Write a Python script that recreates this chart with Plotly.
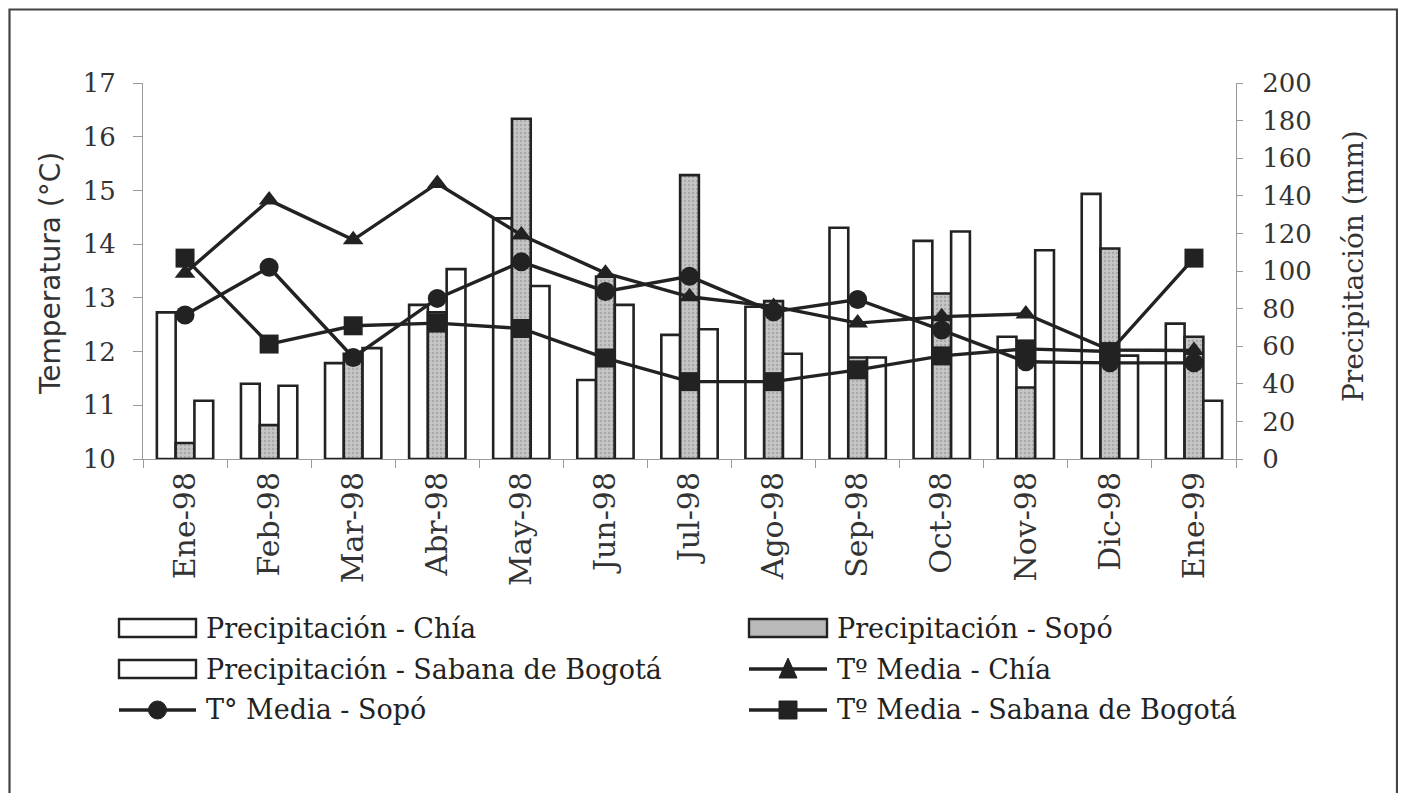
import plotly.graph_objects as go

# ---------------- data ----------------
months = ["Ene-98", "Feb-98", "Mar-98", "Abr-98", "May-98", "Jun-98", "Jul-98",
          "Ago-98", "Sep-98", "Oct-98", "Nov-98", "Dic-98", "Ene-99"]

precip_chia = [78, 40, 51, 82, 128, 42, 66, 81, 123, 116, 65, 141, 72]
precip_sopo = [8.5, 18, 56, 78, 181, 97, 151, 84, 54, 88, 38, 112, 65]
precip_sabana = [31, 39, 59, 101, 92, 82, 69, 56, 54, 121, 111, 55, 31]

temp_chia = [13.46, 14.82, 14.08, 15.13, 14.17, 13.46, 13.02, 12.84, 12.53, 12.65, 12.70, 12.03, 12.02]
temp_sopo = [12.68, 13.57, 11.89, 12.99, 13.67, 13.12, 13.40, 12.74, 12.97, 12.40, 11.81, 11.79, 11.79]
temp_sabana = [13.74, 12.14, 12.48, 12.53, 12.43, 11.88, 11.44, 11.44, 11.66, 11.92, 12.05, 12.00, 13.74]

temp_ticks = [10, 11, 12, 13, 14, 15, 16, 17]
precip_ticks = [0, 20, 40, 60, 80, 100, 120, 140, 160, 180, 200]

# ---------------- geometry / style ----------------
OFF = 8                      # page body margin offset
W, H = 1406 - OFF, 793 - OFF
L, R, T, B = 143, 1236, 83, 459   # plot area in page pixels
INK = "#222222"
AX = "#9a9a9a"
SERIF = "DejaVu Serif"
SANS = "DejaVu Sans"


def px(x):
    return (x - L) / (R - L)


def py(y):
    return (B - y) / (B - T)


fig = go.Figure()

bar_line = dict(color=INK, width=2.6)
fig.add_trace(go.Bar(x=months, y=precip_chia, name="Precipitación - Chía",
                     marker=dict(color="white", line=bar_line), showlegend=False))
fig.add_trace(go.Bar(x=months, y=precip_sopo, name="Precipitación - Sopó",
                     marker=dict(color="#bdbdbd", line=bar_line,
                                 pattern=dict(shape=".", fgcolor="#8c8c8c", bgcolor="#c6c6c6",
                                              size=4, solidity=0.3)),
                     showlegend=False))
fig.add_trace(go.Bar(x=months, y=precip_sabana, name="Precipitación - Sabana de Bogotá",
                     marker=dict(color="white", line=bar_line), showlegend=False))

line_style = dict(color=INK, width=3.4)
for vals, sym, nm in [(temp_chia, "triangle-up", "Tº Media - Chía"),
                      (temp_sopo, "circle", "T° Media - Sopó"),
                      (temp_sabana, "square", "Tº Media - Sabana de Bogotá")]:
    fig.add_trace(go.Scatter(x=months, y=vals, yaxis="y2", mode="lines+markers", name=nm,
                             line=line_style,
                             marker=dict(symbol=sym, size=19 if sym != "triangle-up" else 18,
                                         color=INK, line=dict(width=0)),
                             cliponaxis=False, showlegend=False))

# ---------------- manual legend ----------------
shapes = []
annotations = []
rows = [628, 669, 710]
cols = [(119, 196, 204), (749, 827, 835)]
items = [
    (0, 0, "rect_white", "Precipitación - Chía"),
    (1, 0, "rect_gray", "Precipitación - Sopó"),
    (0, 1, "rect_white", "Precipitación - Sabana de Bogotá"),
    (1, 1, "triangle", "Tº Media - Chía"),
    (0, 2, "circle", "T° Media - Sopó"),
    (1, 2, "square", "Tº Media - Sabana de Bogotá"),
]
for c, r, kind, label in items:
    x0, x1, xt = cols[c]
    yc = rows[r]
    if kind.startswith("rect"):
        shapes.append(dict(type="rect", xref="paper", yref="paper",
                           x0=px(x0), x1=px(x1), y0=py(yc - 9), y1=py(yc + 9),
                           fillcolor="white" if kind == "rect_white" else "#b9b9b9",
                           line=dict(color=INK, width=2.4)))
    else:
        xm = (x0 + x1) / 2
        shapes.append(dict(type="line", xref="paper", yref="paper",
                           x0=px(x0), x1=px(x1), y0=py(yc), y1=py(yc),
                           line=dict(color=INK, width=3.4)))
        s = 9
        if kind == "triangle":
            path = (f"M {px(xm - s)},{py(yc + s)} L {px(xm + s)},{py(yc + s)} "
                    f"L {px(xm)},{py(yc - s - 2)} Z")
            shapes.append(dict(type="path", xref="paper", yref="paper", path=path,
                               fillcolor=INK, line=dict(color=INK, width=1)))
        elif kind == "circle":
            shapes.append(dict(type="circle", xref="paper", yref="paper",
                               x0=px(xm - s), x1=px(xm + s), y0=py(yc - s), y1=py(yc + s),
                               fillcolor=INK, line=dict(color=INK, width=1)))
        else:
            shapes.append(dict(type="rect", xref="paper", yref="paper",
                               x0=px(xm - s), x1=px(xm + s), y0=py(yc - s), y1=py(yc + s),
                               fillcolor=INK, line=dict(color=INK, width=1)))
    annotations.append(dict(xref="paper", yref="paper", x=px(xt), y=py(yc),
                            xanchor="left", yanchor="middle", showarrow=False, text=label,
                            font=dict(family=SERIF, size=27, color=INK)))

# outer frame (page body margin keeps it from reaching the very edge)
shapes.append(dict(type="rect", xref="paper", yref="paper", layer="below",
                   x0=px(9.5), x1=px(1397), y0=py(9.5), y1=py(810),
                   line=dict(color="#444444", width=2.2), fillcolor="rgba(0,0,0,0)"))

# axis titles
annotations.append(dict(xref="paper", yref="paper", x=px(50), y=py(274), textangle=-90,
                        showarrow=False, text="Temperatura (°C)", xanchor="center", yanchor="middle",
                        font=dict(family=SANS, size=28, color="#333333")))
annotations.append(dict(xref="paper", yref="paper", x=px(1353), y=py(266), textangle=-90,
                        showarrow=False, text="Precipitación (mm)", xanchor="center", yanchor="middle",
                        font=dict(family=SERIF, size=28, color="#333333")))

tickfont = dict(family=SERIF, size=26, color="#333333")

fig.update_layout(
    width=W, height=H,
    margin=dict(l=L - OFF, r=W - (R - OFF), t=T - OFF, b=H - (B - OFF), pad=0),
    paper_bgcolor="white", plot_bgcolor="white",
    barmode="group", bargap=0.33, bargroupgap=0.0,
    showlegend=False,
    shapes=shapes, annotations=annotations,
    xaxis=dict(type="category", categoryorder="array", categoryarray=months,
               range=[-0.5, 12.5], tickangle=-90,
               tickfont=dict(family=SERIF, size=30, color="#333333"),
               ticks="outside", tickson="boundaries", ticklen=8, tickcolor=AX,
               showline=True, linecolor=AX, linewidth=1, showgrid=False, zeroline=False),
    yaxis=dict(side="right", range=[0, 200], tickvals=precip_ticks, tickfont=tickfont,
               ticks="outside", ticklen=6, tickcolor=AX, ticklabelstandoff=14,
               showline=True, linecolor=AX, linewidth=1, showgrid=False, zeroline=False),
    yaxis2=dict(overlaying="y", side="left", range=[10, 17], tickvals=temp_ticks,
                tickfont=tickfont, ticks="outside", ticklen=9, tickcolor=AX,
                ticklabelstandoff=12, showline=True, linecolor=AX, linewidth=1,
                showgrid=False, zeroline=False),
)

fig.write_html("out.html")
